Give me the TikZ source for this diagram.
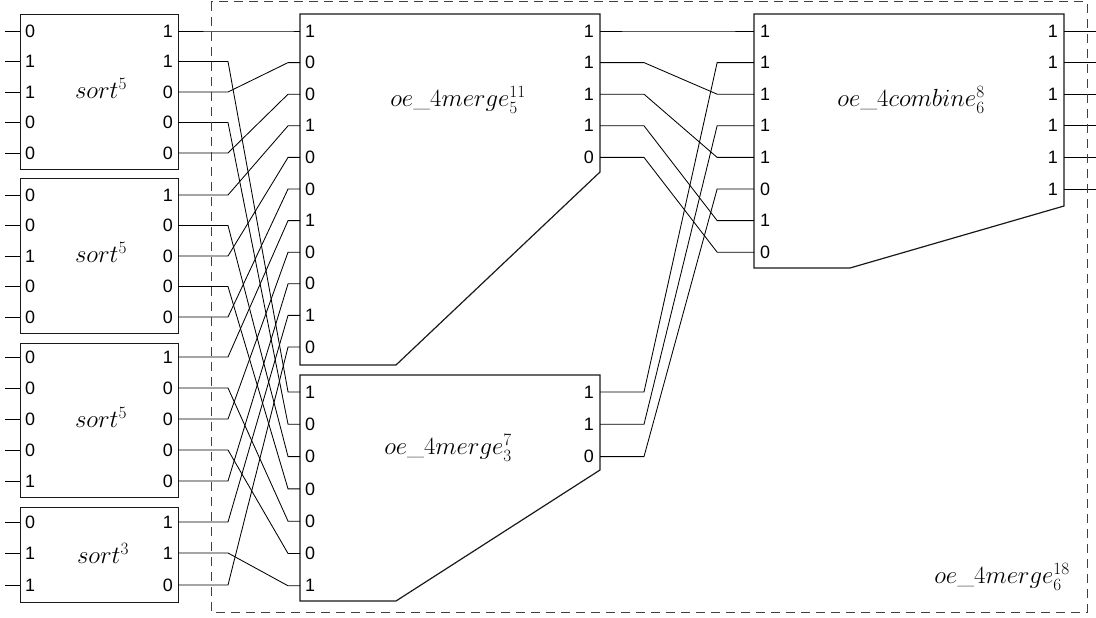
\documentclass[tikz,border=0pt]{standalone}
\usepackage{fontspec}
\newfontfamily\digitfont{Liberation Sans}
\begin{document}
\begin{tikzpicture}[x=1bp,y=-1bp,
  box/.style={draw=black!90,line width=1.2bp},
  wire/.style={line width=0.85bp,black},
  dig/.style={font=\digitfont\fontsize{18}{18}\selectfont,inner sep=0pt},
  lab/.style={font=\fontsize{24.5}{26}\selectfont,inner sep=0pt},
  outer/.style={draw=black!75,line width=1bp,dash pattern=on 9bp off 6bp}]
\useasboundingbox (0,0) rectangle (1096,618);

% ---------- sort boxes ----------
\node[box,minimum width=158bp,minimum height=155bp,anchor=north west] (s1) at (20,14) {};
\node[box,minimum width=158bp,minimum height=155bp,anchor=north west] (s2) at (20,178) {};
\node[box,minimum width=158bp,minimum height=154bp,anchor=north west] (s3) at (20,343) {};
\node[box,minimum width=158bp,minimum height=95bp,anchor=north west] (s4) at (20,507) {};

\node[lab] (s1l) at (101,88) {$sort^5$};
\node[lab] (s2l) at (101,252) {$sort^5$};
\node[lab] (s3l) at (101,417) {$sort^5$};
\node[lab] (s4l) at (103,553) {$sort^3$};

\foreach \y/\a/\b [count=\i] in {31/0/1,61.5/1/1,92/1/0,122.5/0/0,153/0/0}{
  \coordinate (s1x\i) at (5,\y); \coordinate (s1i\i) at (20,\y); \coordinate (s1o\i) at (178,\y);
  \draw[wire] (s1x\i) -- (s1i\i);
  \node[dig,anchor=west] (s1a\i) at ([xshift=5]s1i\i) {\a};
  \node[dig,anchor=east] (s1b\i) at ([xshift=-5]s1o\i) {\b};}
\foreach \y/\a/\b [count=\i] in {195/0/1,225.5/0/0,256/1/0,286.5/0/0,317/0/0}{
  \coordinate (s2x\i) at (5,\y); \coordinate (s2i\i) at (20,\y); \coordinate (s2o\i) at (178,\y);
  \draw[wire] (s2x\i) -- (s2i\i);
  \node[dig,anchor=west] (s2a\i) at ([xshift=5]s2i\i) {\a};
  \node[dig,anchor=east] (s2b\i) at ([xshift=-5]s2o\i) {\b};}
\foreach \y/\a/\b [count=\i] in {357/0/1,388/0/0,419/0/0,450/0/0,481/1/0}{
  \coordinate (s3x\i) at (5,\y); \coordinate (s3i\i) at (20,\y); \coordinate (s3o\i) at (178,\y);
  \draw[wire] (s3x\i) -- (s3i\i);
  \node[dig,anchor=west] (s3a\i) at ([xshift=5]s3i\i) {\a};
  \node[dig,anchor=east] (s3b\i) at ([xshift=-5]s3o\i) {\b};}
\foreach \y/\a/\b [count=\i] in {522/0/1,553/1/1,585/1/0}{
  \coordinate (s4x\i) at (5,\y); \coordinate (s4i\i) at (20,\y); \coordinate (s4o\i) at (178,\y);
  \draw[wire] (s4x\i) -- (s4i\i);
  \node[dig,anchor=west] (s4a\i) at ([xshift=5]s4i\i) {\a};
  \node[dig,anchor=east] (s4b\i) at ([xshift=-5]s4o\i) {\b};}

% ---------- merge 1 ----------
\draw[box] (300,14) -- (600,14) -- (600,172) -- (396,365) -- (300,365) -- cycle;
\node[lab] (m1l) at (458,100) {$oe\_4merge^{11}_{5}$};
\foreach \y/\a [count=\i] in {31/1,62.6/0,94.2/0,125.8/1,157.4/0,189/0,220.6/1,252.2/0,283.8/0,315.4/1,347/0}{
  \coordinate (m1i\i) at (300,\y);
  \node[dig,anchor=west] (m1a\i) at ([xshift=5]m1i\i) {\a};}
\foreach \y/\b [count=\i] in {31/1,62.6/1,94.2/1,125.8/1,157.4/0}{
  \coordinate (m1o\i) at (600,\y);
  \node[dig,anchor=east] (m1b\i) at ([xshift=-6]m1o\i) {\b};}

% ---------- merge 2 ----------
\draw[box] (300,375) -- (600,375) -- (600,470) -- (396,601) -- (300,601) -- cycle;
\node[lab] (m2l) at (448,448) {$oe\_4merge^{7}_{3}$};
\foreach \y/\a [count=\i] in {392/1,424.3/0,456.6/0,488.9/0,521.2/0,553.5/0,585.8/1}{
  \coordinate (m2i\i) at (300,\y);
  \node[dig,anchor=west] (m2a\i) at ([xshift=5]m2i\i) {\a};}
\foreach \y/\b [count=\i] in {392/1,424.3/1,456.6/0}{
  \coordinate (m2o\i) at (600,\y);
  \node[dig,anchor=east] (m2b\i) at ([xshift=-6]m2o\i) {\b};}

% ---------- combine ----------
\draw[box] (754,14) -- (1064,14) -- (1064,206) -- (850,268) -- (754,268) -- cycle;
\node[lab] (cl) at (911,100) {$oe\_4combine^{8}_{6}$};
\foreach \y/\a [count=\i] in {31/1,62.6/1,94.2/1,125.8/1,157.4/1,189/0,220.6/1,252.2/0}{
  \coordinate (ci\i) at (754,\y);
  \node[dig,anchor=west] (ca\i) at ([xshift=6]ci\i) {\a};}
\foreach \y/\b [count=\i] in {31/1,62.6/1,94.2/1,125.8/1,157.4/1,189/1}{
  \coordinate (co\i) at (1064,\y);
  \coordinate (cx\i) at (1096,\y);
  \node[dig,anchor=east] (cb\i) at ([xshift=-6]co\i) {\b};
  \draw[wire] (co\i) -- (cx\i);}

% ---------- wiring sort -> merge ----------
\foreach \s/\m in {s1o1/m1i1,s1o2/m2i1,s1o3/m1i2,s1o4/m2i2,s1o5/m1i3,
                   s2o1/m1i4,s2o2/m2i3,s2o3/m1i5,s2o4/m2i4,s2o5/m1i6,
                   s3o1/m1i7,s3o2/m2i5,s3o3/m1i8,s3o4/m2i6,s3o5/m1i9,
                   s4o1/m1i10,s4o2/m2i7,s4o3/m1i11}{
  \draw[wire] (\s) -- ++(50,0) -- ([xshift=-12]\m) -- (\m);}

% ---------- wiring merge -> combine ----------
\foreach \s/\c in {m1o1/ci1,m2o1/ci2,m1o2/ci3,m2o2/ci4,m1o3/ci5,m2o3/ci6,m1o4/ci7,m1o5/ci8}{
  \draw[wire] (\s) -- ++(44,0) -- ([xshift=-37]\c) -- (\c);}

% ---------- outer dashed box ----------
\draw[outer] (211,2) rectangle (1087,612);
\node[lab] (ol) at (1002,577) {$oe\_4merge^{18}_{6}$};
\end{tikzpicture}
\end{document}
